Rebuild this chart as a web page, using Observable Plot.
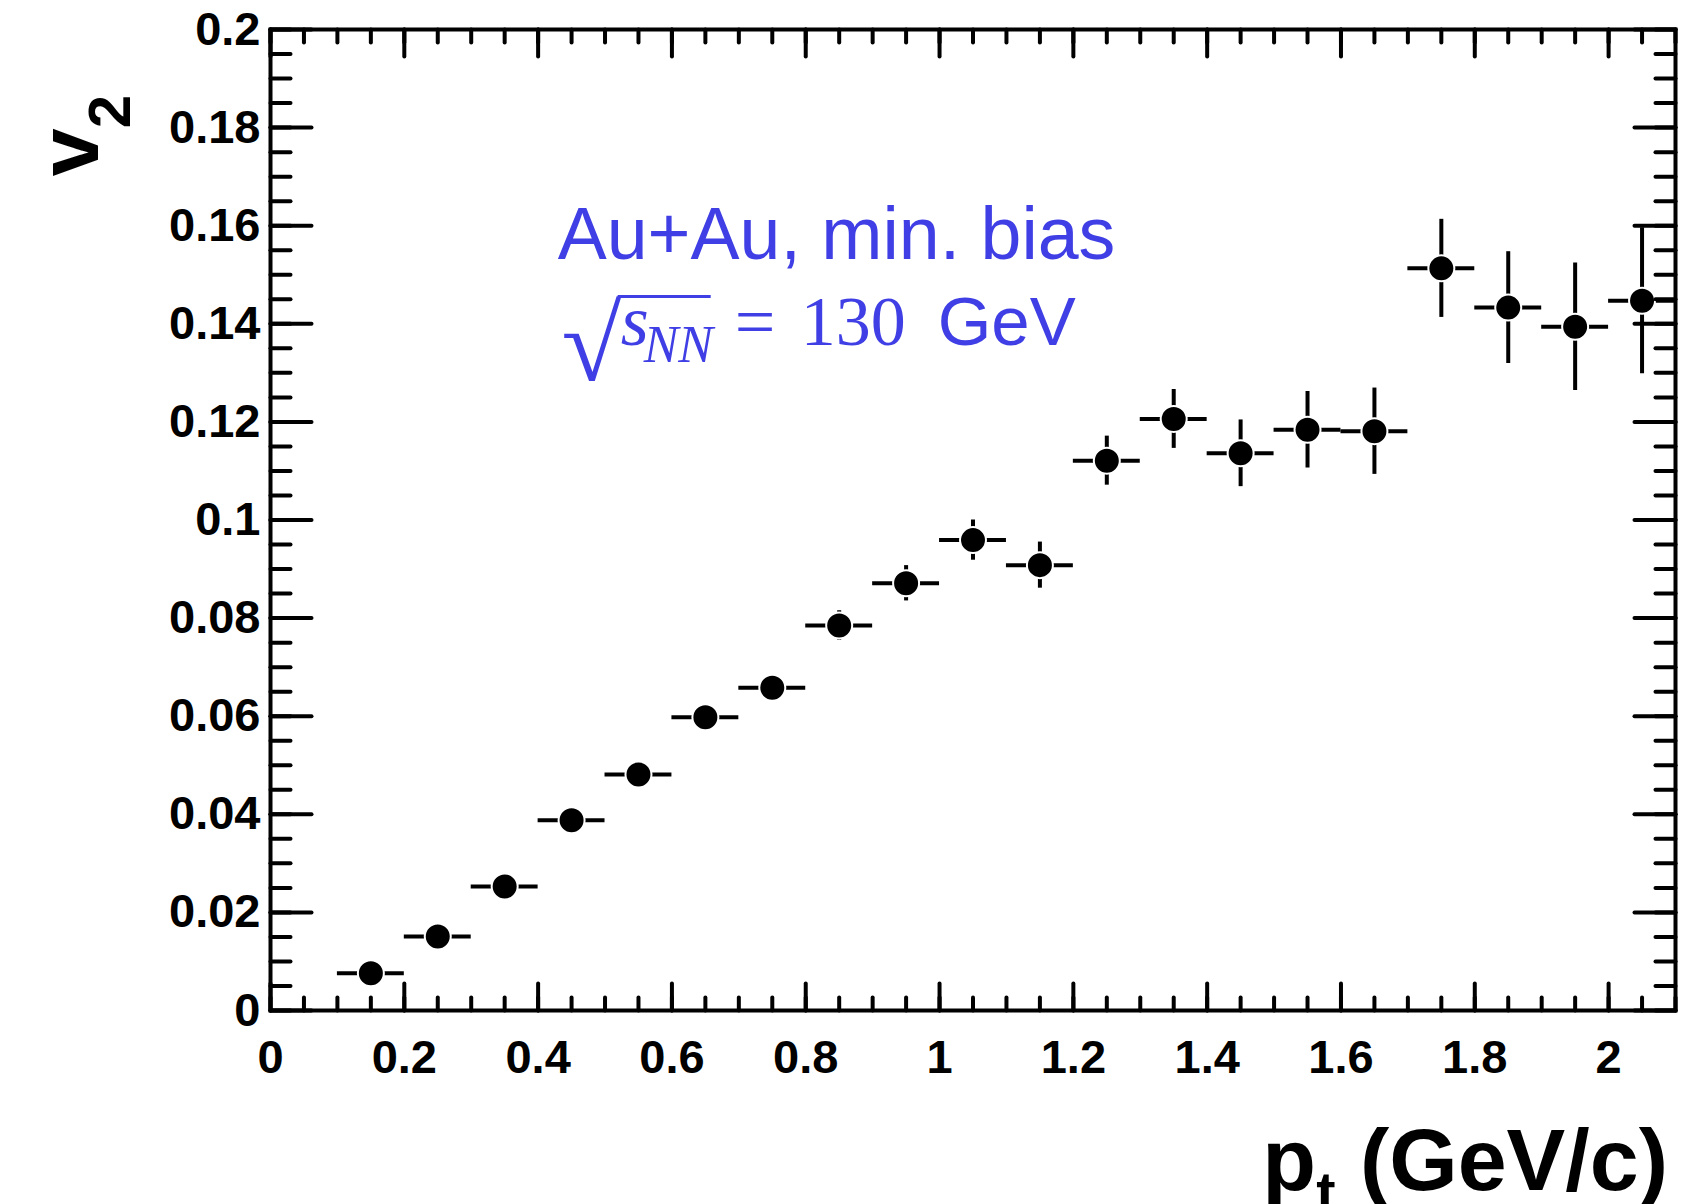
<!DOCTYPE html>
<html>
<head>
<meta charset="utf-8">
<script src="https://cdn.jsdelivr.net/npm/d3@7"></script>
<script src="https://cdn.jsdelivr.net/npm/@observablehq/plot@0.6"></script>
<style>
html, body { margin: 0; padding: 0; background: #fff; }
svg { display: block; }
</style>
</head>
<body>
<div id="chart"></div>
<script>
// ---- data ----
const pt = [0.15, 0.25, 0.35, 0.45, 0.55, 0.65, 0.75, 0.85, 0.95, 1.05,
            1.15, 1.25, 1.35, 1.45, 1.55, 1.65, 1.75, 1.85, 1.95, 2.05];
const ptHalfWidth = [0.05, 0.05, 0.05, 0.05, 0.05, 0.05, 0.05, 0.05, 0.05, 0.05,
                     0.05, 0.05, 0.05, 0.05, 0.05, 0.05, 0.05, 0.05, 0.05, 0.05];
const v2 = [0.0076, 0.0151, 0.0253, 0.0388, 0.0481, 0.0598, 0.0658, 0.0785, 0.0871, 0.0959,
            0.0908, 0.1121, 0.1206, 0.1136, 0.1184, 0.1181, 0.1513, 0.1433, 0.1394, 0.1447];
const v2Err = [0.0008, 0.0008, 0.0009, 0.0010, 0.0012, 0.0014, 0.0017, 0.0030, 0.0036, 0.0041,
               0.0047, 0.0050, 0.0060, 0.0068, 0.0078, 0.0088, 0.0100, 0.0114, 0.0130, 0.0149];

const xTicks = [0, 0.2, 0.4, 0.6, 0.8, 1, 1.2, 1.4, 1.6, 1.8, 2];
const xTickLabels = ["0", "0.2", "0.4", "0.6", "0.8", "1", "1.2", "1.4", "1.6", "1.8", "2"];
const yTicks = [0, 0.02, 0.04, 0.06, 0.08, 0.1, 0.12, 0.14, 0.16, 0.18, 0.2];
const yTickLabels = ["0", "0.02", "0.04", "0.06", "0.08", "0.1", "0.12", "0.14", "0.16", "0.18", "0.2"];
const xMinor = d3.range(0, 2.1001, 0.05);
const yMinor = d3.range(0, 0.2001, 0.005);

const xTitle = ["p", "t", " (GeV/c)"];
const yTitle = ["v", "2"];
const noteLine1 = "Au+Au, min. bias";
const noteEnergy = "130";
const noteUnit = "GeV";

const rows = pt.map((p, i) => ({
  pt: p, lo: p - ptHalfWidth[i], hi: p + ptHalfWidth[i],
  v2: v2[i], v2lo: v2[i] - v2Err[i], v2hi: v2[i] + v2Err[i]
}));

const sans = "'Liberation Sans', Arial, Helvetica, sans-serif";
const serif = "'Liberation Serif', 'Times New Roman', serif";
const blue = "#3f3fe5";

const tickShape = { draw(ctx, l) { ctx.moveTo(0, 0); ctx.lineTo(0, -l); } };
const tk = { shape: tickShape, anchor: "start", stroke: "black", strokeWidth: 4 };

const plot = Plot.plot({
  width: 1696, height: 1204,
  marginLeft: 270, marginRight: 21, marginTop: 29, marginBottom: 194,
  style: { fontFamily: sans, background: "white", color: "black" },
  x: { domain: [0, 2.1] },
  y: { domain: [0, 0.2] },
  marks: [
    Plot.ruleY(rows, { y: "v2", x1: "lo", x2: "hi", stroke: "black", strokeWidth: 4 }),
    Plot.ruleX(rows, { x: "pt", y1: "v2lo", y2: "v2hi", stroke: "black", strokeWidth: 4 }),
    Plot.dot(rows, { x: "pt", y: "v2", r: 13, fill: "black", stroke: "white", strokeWidth: 2 }),
    // ticks, ROOT style (inside, on all four sides)
    Plot.vector(yTicks, { x: 0, y: d => d, length: 41, rotate: 90, ...tk }),
    Plot.vector(yMinor, { x: 0, y: d => d, length: 20, rotate: 90, ...tk }),
    Plot.vector(yTicks, { x: 2.1, y: d => d, length: 41, rotate: -90, ...tk }),
    Plot.vector(yMinor, { x: 2.1, y: d => d, length: 20, rotate: -90, ...tk }),
    Plot.vector(xTicks, { x: d => d, y: 0, length: 27, rotate: 0, ...tk }),
    Plot.vector(xMinor, { x: d => d, y: 0, length: 13, rotate: 0, ...tk }),
    Plot.vector(xTicks, { x: d => d, y: 0.2, length: 27, rotate: 180, ...tk }),
    Plot.vector(xMinor, { x: d => d, y: 0.2, length: 13, rotate: 180, ...tk }),
    Plot.frame({ stroke: "black", strokeWidth: 4 }),
    Plot.axisY({ ticks: yTicks, tickSize: 0, tickPadding: 10, label: null,
      tickFormat: d => yTickLabels[yTicks.indexOf(d)],
      fontSize: 47, fontWeight: "bold", fontFamily: sans }),
    Plot.axisX({ ticks: xTicks, tickSize: 0, tickPadding: 29, label: null,
      tickFormat: d => xTickLabels[xTicks.indexOf(d)],
      fontSize: 47, fontWeight: "bold", fontFamily: sans })
  ]
});

document.getElementById("chart").append(plot);

const sx = plot.scale("x"), sy = plot.scale("y");
const svg = d3.select(plot);

// Axis titles
const x0 = sx.apply(0), x1 = sx.apply(2.1), y0 = sy.apply(0);
const xt = svg.append("text")
  .attr("x", x1 - 7).attr("y", y0 + 180)
  .attr("text-anchor", "end").attr("font-family", sans).attr("font-weight", "bold")
  .attr("fill", "black").attr("font-size", 88);
xt.append("tspan").text(xTitle[0]);
xt.append("tspan").attr("font-size", 58).attr("dy", 22).text(xTitle[1]);
xt.append("tspan").attr("dy", -22).text(xTitle[2]);

const yt = svg.append("text")
  .attr("transform", `translate(${x0 - 172},${sy.apply(0.17)}) rotate(-90)`)
  .attr("text-anchor", "start")
  .attr("font-family", sans).attr("font-weight", "bold").attr("fill", "black")
  .attr("font-size", 86);
yt.append("tspan").text(yTitle[0]);
yt.append("tspan").attr("font-size", 60).attr("dy", 32).text(yTitle[1]);

// Annotation
const ax = sx.apply(0.43), ay = sy.apply(0.1531);
const g = svg.append("g").attr("fill", blue).attr("text-anchor", "start");
g.append("text").attr("x", ax).attr("y", ay).attr("font-family", sans)
  .attr("font-size", 73.5).text(noteLine1);

// radical sign as text, scaled so that its ink fits the box seen in the reference
const cv = document.createElement("canvas").getContext("2d");
cv.font = "100px 'Liberation Serif'";
const m = cv.measureText("\u221A");
const L = m.actualBoundingBoxLeft, R = m.actualBoundingBoxRight;
const A = m.actualBoundingBoxAscent, D = m.actualBoundingBoxDescent;
const rx0 = ax + 6, ry0 = ay + 36, rw = 58, rh = 86;
const ksx = rw / (L + R), ksy = rh / (A + D);
g.append("text").attr("x", 0).attr("y", 0).attr("font-family", serif)
  .attr("font-size", 100)
  .attr("transform", `translate(${rx0 + ksx * L},${ry0 + ksy * A}) scale(${ksx},${ksy})`)
  .text("\u221A");
g.append("line").attr("x1", ax + 60).attr("x2", ax + 153)
  .attr("y1", ay + 37.5).attr("y2", ay + 37.5)
  .attr("stroke", blue).attr("stroke-width", 3);
g.append("text").attr("x", ax + 63).attr("y", ay + 86).attr("font-family", serif)
  .attr("font-style", "italic").attr("font-size", 72).text("s");
g.append("text").attr("x", ax + 86).attr("y", ay + 103).attr("font-family", serif)
  .attr("font-style", "italic").attr("font-size", 52).text("NN");
g.append("text").attr("x", ax + 177).attr("y", ay + 87).attr("font-family", serif)
  .attr("font-size", 72).text("=");
g.append("text").attr("x", ax + 243).attr("y", ay + 86).attr("font-family", serif)
  .attr("font-size", 70).text(noteEnergy);
g.append("text").attr("x", ax + 380).attr("y", ay + 86).attr("font-family", sans)
  .attr("font-size", 69).text(noteUnit);
</script>
</body>
</html>
